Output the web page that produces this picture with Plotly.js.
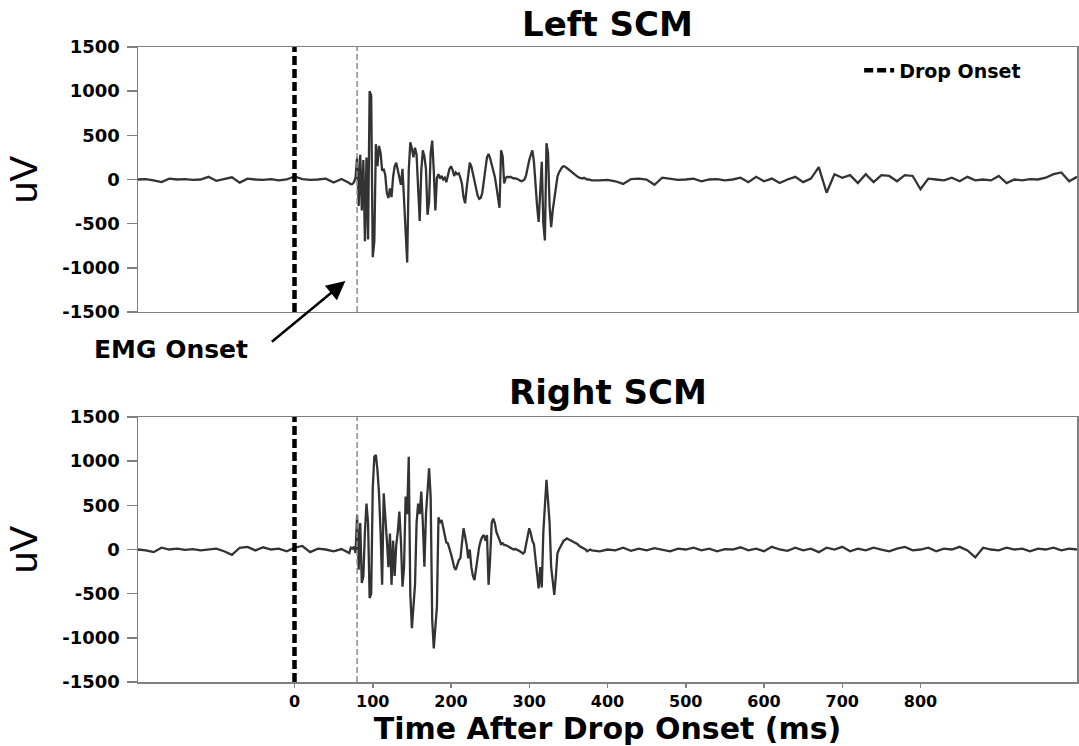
<!DOCTYPE html>
<html><head><meta charset="utf-8">
<script src="https://cdn.plot.ly/plotly-3.0.1.min.js"></script>
<style>html,body{margin:0;padding:0;background:#fff}</style>
</head><body>
<div id="chart" style="width:1079px;height:746px"></div>
<script>
// ---- data ----
const timeMs = [
-200,-190,-180,-170,-160,-150,-140,-130,-120,-110,-100,-90,-80,-70,-60,-50,-40,-30,-20,-10,0,10,20,30,40,50,60,70,
72,74,76,78,80,82,84,86,88,90,
92,94,96,98,100,102,104,106,108,110,
112,114,116,118,120,122,124,126,128,130,
132,134,136,138,140,142,144,146,148,150,
152,154,156,158,160,162,164,166,168,170,
172,174,176,178,180,182,184,186,188,190,
192,194,196,198,200,202,204,206,208,210,
212,214,216,218,220,222,224,226,228,230,
232,234,236,238,240,242,244,246,248,250,
252,254,256,258,260,262,264,266,268,270,
272,274,276,278,280,282,284,286,288,290,
292,294,296,298,300,302,304,306,308,310,
312,314,316,318,320,322,324,326,328,330,
332,334,336,338,340,342,344,346,348,350,
352,354,356,358,360,362,364,366,368,370,
372,374,376,378,380,
390,400,410,420,430,440,450,460,470,480,490,500,510,520,530,540,550,560,570,580,
590,600,610,620,630,640,650,660,670,680,690,700,710,720,730,740,750,760,770,780,
790,800,810,820,830,840,850,860,870,880,890,900,910,920,930,940,950,960,970,980,990,1000
];
const leftScmUv = [
0,5,-10,-30,10,0,5,-5,0,30,-15,5,25,-35,10,0,-5,5,-10,0,35,5,-5,0,10,-35,5,-40,
-55,-50,-30,20,250,-300,280,-350,220,-700,
250,-680,1000,950,-880,-700,400,150,380,300,
100,120,50,-150,-210,-100,-200,30,150,190,
100,0,-60,120,-200,-500,-940,100,420,350,
250,360,280,-100,-470,100,330,260,120,-400,
-250,300,440,100,-350,20,60,10,40,0,
20,-30,60,120,150,110,40,80,60,70,
20,-50,-200,-270,-100,80,190,150,60,-40,
-120,-180,-220,-210,-150,-40,120,250,290,240,
180,100,30,-80,-200,-320,330,260,-45,20,
30,25,30,20,10,15,10,0,-10,-20,
-10,0,50,150,220,280,330,200,-100,-300,
-480,-200,200,-500,-690,410,300,-300,-540,-350,
-200,-50,30,80,110,140,150,145,130,115,
100,80,70,60,40,30,20,15,10,20,
5,0,0,-5,-10,
-10,-5,-20,-50,5,10,0,-60,20,5,-5,0,10,-20,0,5,-10,0,20,-30,
30,-20,10,-40,0,30,-30,10,140,-150,60,20,50,-40,60,-30,50,40,-20,50,
40,-110,10,0,-10,20,-20,30,-10,0,-10,40,-40,0,-10,5,0,20,60,80,-20,30
];
const rightScmUv = [
0,-10,-30,20,0,10,-5,5,-10,0,10,-20,-60,20,30,-10,25,0,10,-20,20,40,-30,10,0,-20,5,-40,
20,10,30,-40,390,-230,300,-380,-300,200,
520,300,-550,-500,700,1050,1070,900,635,200,
-400,635,300,110,-200,180,-400,100,-300,50,
200,430,100,-420,-200,600,400,1050,-500,-890,
-650,-400,300,520,400,655,300,-195,400,655,
920,600,-800,-1120,-900,-650,365,300,335,250,
150,80,70,20,-50,-120,-200,-230,-180,-120,
-100,100,240,150,50,-100,0,-200,-300,-345,
-200,-50,30,100,145,165,100,165,-400,-100,
300,350,300,200,145,100,60,70,50,50,
40,30,20,10,0,5,0,-10,-20,-30,
-45,-30,50,150,240,180,100,60,-100,-300,
-440,-200,-430,200,500,790,550,300,-200,-400,
-515,-300,-45,0,40,70,100,110,125,115,
105,95,85,80,70,60,40,30,20,10,
0,-20,-5,0,-10,
-20,0,-10,20,-15,10,-10,15,0,-20,10,0,20,-10,10,-20,5,0,25,-10,
10,-20,30,0,-15,20,-10,10,-30,20,0,30,-20,10,-10,20,0,-20,10,30,
-10,0,20,-20,10,0,30,-10,-90,20,0,-10,20,0,10,-20,10,0,20,-10,10,0
];
const dropOnsetMs = 0;
const emgOnsetMs = 80;
const yLimits = [-1500, 1500];
const xLimits = [-200, 1000];
const xTickVals = [0, 100, 200, 300, 400, 500, 600, 700, 800];
const yTickVals = [-1500, -1000, -500, 0, 500, 1000, 1500];
const yTickText = ['-1500', '-1000', '-500', '0', '500', '1000', '1500'];
const panelTitles = ['Left SCM', 'Right SCM'];
const emgArrowTip = [65, -1150];

if (timeMs.length !== leftScmUv.length || timeMs.length !== rightScmUv.length) {
  console.error('length mismatch', timeMs.length, leftScmUv.length, rightScmUv.length);
}

// ---- styling ----
const BOLD = 'DejaVu Sans, Arial, sans-serif';
const axisGray = '#808080';
const traceColor = '#333333';

function signal(y, xa, ya) {
  return {x: timeMs, y: y, xaxis: xa, yaxis: ya, type: 'scatter', mode: 'lines',
    line: {color: traceColor, width: 2.3}, showlegend: false, hoverinfo: 'skip'};
}
function vline(xv, xa, ya, style, name, legend) {
  return {x: [xv, xv], y: yLimits, xaxis: xa, yaxis: ya, type: 'scatter', mode: 'lines',
    line: style, name: name, showlegend: legend, hoverinfo: 'skip'};
}
const dropStyle = {color: '#000', width: 4.5, dash: '9px,4px'};
const emgStyle = {color: '#8c8c8c', width: 1.5, dash: '6px,3px'};

const data = [
  signal(leftScmUv, 'x', 'y'),
  signal(rightScmUv, 'x2', 'y2'),
  vline(dropOnsetMs, 'x', 'y', dropStyle, 'Drop Onset', true),
  vline(dropOnsetMs, 'x2', 'y2', dropStyle, 'Drop Onset', false),
  vline(emgOnsetMs, 'x', 'y', emgStyle, 'EMG Onset', false),
  vline(emgOnsetMs, 'x2', 'y2', emgStyle, 'EMG Onset', false)
];

const yTitle = {text: 'uV', font: {family: 'Liberation Sans, Arial, sans-serif', size: 39, color: '#000'}, standoff: 12};
function yAxis(domain, anchor) {
  return {domain: domain, anchor: anchor, range: yLimits, tickvals: yTickVals, ticktext: yTickText,
    ticks: 'outside', ticklen: 10, tickwidth: 1.5, tickcolor: axisGray,
    tickfont: {family: BOLD, size: 18, color: '#000', weight: 'bold'},
    showline: true, mirror: true, linecolor: axisGray, linewidth: 1.5,
    showgrid: false, zeroline: false, title: yTitle, ticklabelstandoff: 3};
}

const layout = {
  width: 1079, height: 746,
  margin: {l: 138, r: 2, t: 47, b: 64},
  paper_bgcolor: '#fff', plot_bgcolor: '#fff',
  showlegend: true,
  legend: {x: 0.768, y: 0.993, xanchor: 'left', yanchor: 'top', bgcolor: 'rgba(0,0,0,0)',
    font: {family: BOLD, size: 19, color: '#000', weight: 'bold'}},
  xaxis: {domain: [0, 1], anchor: 'y', range: xLimits, showticklabels: false, ticks: '',
    showline: true, mirror: true, linecolor: axisGray, linewidth: 1.5, showgrid: false, zeroline: false},
  yaxis: yAxis([0.5827, 1], 'x'),
  xaxis2: {domain: [0, 1], anchor: 'y2', range: xLimits, tickvals: xTickVals,
    ticks: 'outside', ticklen: 4, tickwidth: 1.5, tickcolor: axisGray,
    tickfont: {family: BOLD, size: 16, color: '#000', weight: 'bold'},
    showline: true, mirror: true, linecolor: axisGray, linewidth: 1.5, showgrid: false, zeroline: false,
    title: {text: 'Time After Drop Onset (ms)', font: {family: BOLD, size: 30, color: '#000', weight: 'bold'}, standoff: 4}},
  yaxis2: yAxis([0, 0.4173], 'x2'),
  annotations: [
    {text: panelTitles[0], xref: 'paper', yref: 'paper', x: 0.5, y: 1.036, xanchor: 'center', yanchor: 'middle',
      showarrow: false, font: {family: BOLD, size: 34, color: '#000', weight: 'bold'}},
    {text: panelTitles[1], xref: 'paper', yref: 'paper', x: 0.5, y: 0.457, xanchor: 'center', yanchor: 'middle',
      showarrow: false, font: {family: BOLD, size: 34, color: '#000', weight: 'bold'}},
    {text: 'EMG Onset', xref: 'paper', yref: 'paper', x: 0.035, y: 0.523, xanchor: 'center', yanchor: 'middle',
      showarrow: false, font: {family: BOLD, size: 25, color: '#000', weight: 'bold'}},
    {text: '', xref: 'x', yref: 'y', x: emgArrowTip[0], y: emgArrowTip[1], ax: -75, ay: 62,
      showarrow: true, arrowhead: 2, arrowsize: 1.5, arrowwidth: 2.5, arrowcolor: '#000'}
  ]
};

Plotly.newPlot('chart', data, layout, {staticPlot: true, displayModeBar: false});
</script>
</body></html>
